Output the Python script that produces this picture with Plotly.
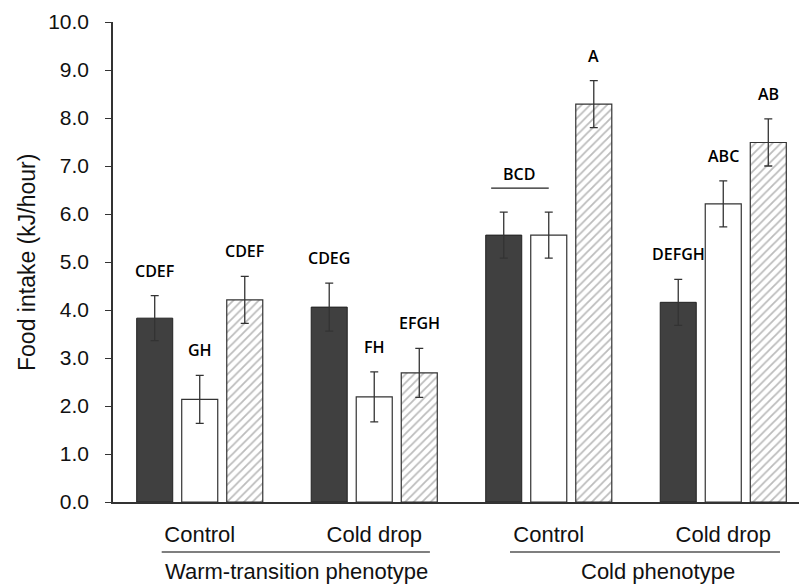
import plotly.graph_objects as go

categories = ["Warm Control", "Warm Cold drop", "Cold Control", "Cold Cold drop"]
tick_labels = ["Control", "Cold drop", "Control", "Cold drop"]
phenotypes = ["Warm-transition phenotype", "Cold phenotype"]

dark_vals = [3.83, 4.06, 5.56, 4.16]
white_vals = [2.14, 2.19, 5.56, 6.21]
hatch_vals = [4.21, 2.69, 8.29, 7.49]

dark_err = [0.47, 0.50, 0.48, 0.48]
white_err = [0.50, 0.52, 0.48, 0.48]
hatch_err = [0.49, 0.51, 0.49, 0.49]

dark_letters = ["CDEF", "CDEG", "", "DEFGH"]
white_letters = ["GH", "FH", "", "ABC"]
hatch_letters = ["CDEF", "EFGH", "A", "AB"]
bracket_letters = "BCD"  # shared by dark & white bars of the cold-phenotype control group

edge = "#333333"
err_style = dict(type="data", thickness=1.3, width=4, color="#333333")

fig = go.Figure()
fig.add_trace(go.Bar(
    x=categories, y=dark_vals, name="dark",
    marker=dict(color="#404040", line=dict(color="#222222", width=1)),
    error_y=dict(array=dark_err, **err_style),
))
fig.add_trace(go.Bar(
    x=categories, y=white_vals, name="white",
    marker=dict(color="white", line=dict(color=edge, width=1.2)),
    error_y=dict(array=white_err, **err_style),
))
fig.add_trace(go.Bar(
    x=categories, y=hatch_vals, name="hatched",
    marker=dict(color="white", line=dict(color=edge, width=1.2),
                pattern=dict(shape="/", fgcolor="#7a7a7a", bgcolor="white",
                             size=6, solidity=0.3)),
    error_y=dict(array=hatch_err, **err_style),
))

slot = 0.258
annotations = []
letter_font = dict(family="Open Sans", size=16, color="#000000", weight=600)
series = [(dark_vals, dark_err, dark_letters), (white_vals, white_err, white_letters),
          (hatch_vals, hatch_err, hatch_letters)]
for j, (vals, errs, letters) in enumerate(series):
    for i, lab in enumerate(letters):
        if not lab:
            continue
        annotations.append(dict(
            x=i + (j - 1) * slot, y=vals[i] + errs[i], xref="x", yref="y",
            text=lab, showarrow=False, yanchor="bottom", yshift=12, font=letter_font))

# bracket over dark & white bars of group 2
top = max(dark_vals[2] + dark_err[2], white_vals[2] + white_err[2])
by = top + 0.5
shapes = [dict(type="line", xref="x", yref="y", x0=2 - 0.33, x1=2.0, y0=by, y1=by,
               line=dict(color="#222222", width=1.3))]
annotations.append(dict(x=2 - 0.17, y=by, xref="x", yref="y", text=bracket_letters,
                        showarrow=False, yanchor="bottom", yshift=1, font=letter_font))

# phenotype group lines and labels
line_spans = [(-0.218, 1.319), (1.778, 3.325)]
label_x = [0.555, 2.626]
for (a, b), lx, name in zip(line_spans, label_x, phenotypes):
    shapes.append(dict(type="line", xref="x", yref="paper", x0=a, x1=b, y0=-0.104, y1=-0.104,
                       line=dict(color="#555555", width=1.5)))
    annotations.append(dict(x=lx, y=-0.144, xref="x", yref="paper", text=name,
                            showarrow=False, yanchor="middle", xanchor="center",
                            font=dict(family="Arial", size=22, color="#111111")))

annotations.append(dict(x=-0.1254, y=0.5, xref="paper", yref="paper",
                        text="Food intake (kJ/hour)", textangle=-90, showarrow=False,
                        xanchor="center", yanchor="middle",
                        font=dict(family="Arial", size=23, color="#111111")))

fig.update_layout(
    width=799, height=585,
    margin=dict(l=113, r=0, t=22, b=83, autoexpand=False),
    paper_bgcolor="white", plot_bgcolor="white",
    barmode="group", bargap=0.226, bargroupgap=0.2,
    showlegend=False,
    shapes=shapes, annotations=annotations,
    xaxis=dict(range=[-0.497, 3.434], tickvals=categories, ticktext=tick_labels,
               showline=True, linecolor="#333333", linewidth=1.5, ticks="",
               showgrid=False, zeroline=False, ticklabelstandoff=12, automargin=False,
               tickfont=dict(family="Arial", size=22, color="#111111")),
    yaxis=dict(range=[0, 10], dtick=1, tickformat=".1f", showline=True,
               linecolor="#333333", linewidth=1.5, ticks="outside", ticklen=6,
               tickcolor="#333333", showgrid=False, zeroline=False,
               ticklabelstandoff=12, automargin=False,
               tickfont=dict(family="Arial", size=21, color="#111111")),
)

fig.write_html("out.html", config={"displayModeBar": False},
               post_script="document.body.style.margin='0';document.body.style.overflow='hidden';")
